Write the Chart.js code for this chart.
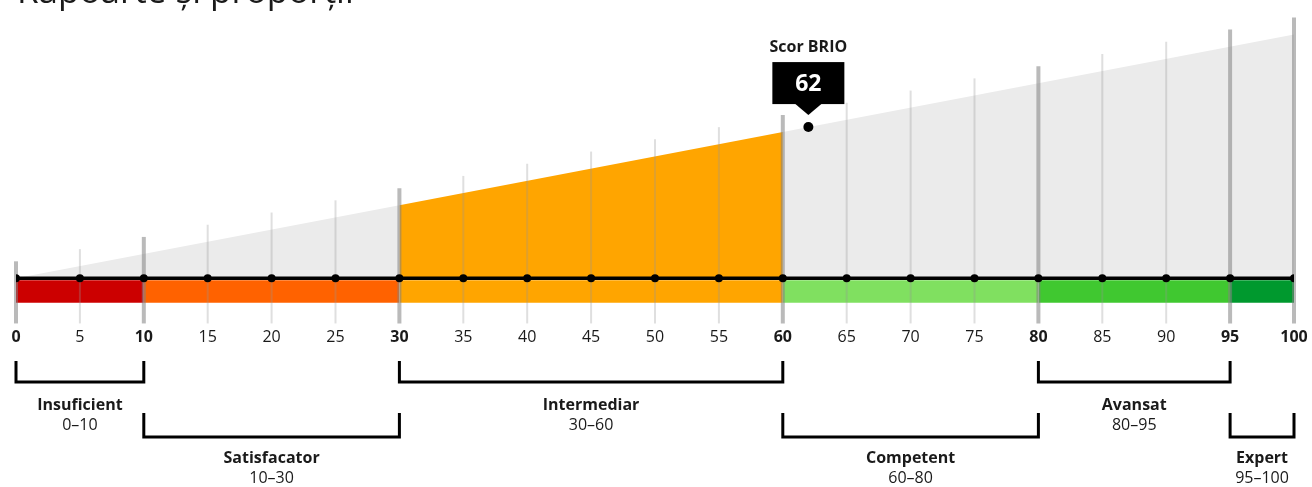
<!DOCTYPE html>
<html>
<head>
<meta charset="utf-8">
<script src="https://cdn.jsdelivr.net/npm/chart.js@4.4.0/dist/chart.umd.min.js"></script>
<style>
  html, body { margin: 0; padding: 0; background: #fff; }
  #wrap { position: relative; width: 1312px; height: 487px; }
</style>
</head>
<body>
<div id="wrap"><canvas id="brioChart"></canvas></div>
<script>
const chartTitle = 'Rapoarte și proporții';
const scoreLabel = 'Scor BRIO';
const score = 62;

// levels of the scale
const levelNames = ['Insuficient', 'Satisfacator', 'Intermediar', 'Competent', 'Avansat', 'Expert'];
const levelFrom = [0, 10, 30, 60, 80, 95];
const levelTo = [10, 30, 60, 80, 95, 100];
const levelColors = ['#cc0000', '#ff6200', '#ffa500', '#80e060', '#40c830', '#00992e'];

// tick labels along the axis
const tickValues = [0, 5, 10, 15, 20, 25, 30, 35, 40, 45, 50, 55, 60, 65, 70, 75, 80, 85, 90, 95, 100];
const majorTicks = [0, 10, 30, 60, 80, 95, 100];

// ramp above the axis: height follows the score, one part highlighted
const rampX = [0, 30, 60, 100];
const rampH = [0, 30, 60, 100];
const rampColors = ['#ebebeb', '#ffa500', '#ebebeb'];

const bandTop = -0.8;     // colored band just under the axis line
const bandBottom = -10;
const gridBottom = -18.5; // where the vertical lines and tick labels sit

const TEXT = '#1a1a1a';
const FONT = "'Open Sans', 'Noto Sans', sans-serif";
Chart.defaults.font.family = FONT;

const datasets = [];
// 0: score point
datasets.push({
    data: [{ x: score, y: score }],
    showLine: false,
    pointRadius: 5,
    pointBackgroundColor: '#000',
    pointBorderWidth: 0
});
// 1: axis line with dots
datasets.push({
    data: tickValues.map(v => ({ x: v, y: 0 })),
    borderColor: '#000',
    borderWidth: 3.5,
    pointRadius: 4,
    pointBackgroundColor: '#000',
    pointBorderWidth: 0,
    fill: false
});
// colored bands
levelNames.forEach((name, i) => {
    datasets.push({
        data: [{ x: levelFrom[i], y: bandTop }, { x: levelTo[i], y: bandTop }],
        borderWidth: 0,
        pointRadius: 0,
        backgroundColor: levelColors[i],
        fill: { value: bandBottom }
    });
});
// ramp pieces
for (let i = 0; i < rampX.length - 1; i++) {
    datasets.push({
        data: [{ x: rampX[i], y: rampH[i] }, { x: rampX[i + 1], y: rampH[i + 1] }],
        borderWidth: 0,
        pointRadius: 0,
        backgroundColor: rampColors[i],
        fill: 'origin'
    });
}

// vertical lines, drawn over the fills but under the axis line
const gridPlugin = {
    id: 'brioGrid',
    beforeDatasetDraw(chart, args) {
        if (args.index !== 1) return;
        const { ctx, scales: { x, y } } = chart;
        ctx.save();
        tickValues.forEach(v => {
            const major = majorTicks.includes(v);
            const px = x.getPixelForValue(v);
            ctx.strokeStyle = major ? 'rgba(130,130,130,0.55)' : 'rgba(150,150,150,0.3)';
            ctx.lineWidth = major ? 4 : 2;
            ctx.beginPath();
            ctx.moveTo(px, y.getPixelForValue(rampH[0] + v) - 17);
            ctx.lineTo(px, y.getPixelForValue(gridBottom));
            ctx.stroke();
        });
        ctx.restore();
    }
};

// title, score callout and level brackets
const extrasPlugin = {
    id: 'brioExtras',
    afterDraw(chart) {
        const { ctx, scales: { x, y } } = chart;
        ctx.save();

        ctx.fillStyle = TEXT;
        ctx.font = '35px ' + FONT;
        ctx.textAlign = 'left';
        ctx.textBaseline = 'alphabetic';
        ctx.fillText(chartTitle, 17, 3);

        // score callout
        const sx = x.getPixelForValue(score);
        const sy = y.getPixelForValue(score);
        const boxW = 72, boxH = 42;
        const boxBottom = sy - 23;
        ctx.fillStyle = '#000';
        ctx.fillRect(sx - boxW / 2, boxBottom - boxH, boxW, boxH);
        ctx.beginPath();
        ctx.moveTo(sx - 13, boxBottom);
        ctx.lineTo(sx + 13, boxBottom);
        ctx.lineTo(sx, boxBottom + 11);
        ctx.closePath();
        ctx.fill();
        ctx.fillStyle = '#fff';
        ctx.textAlign = 'center';
        ctx.textBaseline = 'middle';
        ctx.font = 'bold 23px ' + FONT;
        ctx.fillText(String(score), sx, boxBottom - boxH / 2 + 1);
        ctx.fillStyle = TEXT;
        ctx.font = 'bold 16px ' + FONT;
        ctx.fillText(scoreLabel, sx, boxBottom - boxH - 15);

        // brackets, alternating on two rows
        const rows = [
            { top: 361, bottom: 382, name: 405, range: 425 },
            { top: 413, bottom: 437, name: 458, range: 478 }
        ];
        levelNames.forEach((name, i) => {
            const r = rows[i % 2];
            const x1 = x.getPixelForValue(levelFrom[i]);
            const x2 = x.getPixelForValue(levelTo[i]);
            ctx.strokeStyle = '#000';
            ctx.lineWidth = 3;
            ctx.lineJoin = 'miter';
            ctx.lineCap = 'butt';
            ctx.beginPath();
            ctx.moveTo(x1, r.top);
            ctx.lineTo(x1, r.bottom);
            ctx.lineTo(x2, r.bottom);
            ctx.lineTo(x2, r.top);
            ctx.stroke();
            const cx = (x1 + x2) / 2;
            ctx.fillStyle = TEXT;
            ctx.font = 'bold 16px ' + FONT;
            ctx.fillText(name, cx, r.name);
            ctx.font = '16px ' + FONT;
            ctx.fillText(levelFrom[i] + '–' + levelTo[i], cx, r.range);
        });
        ctx.restore();
    }
};

new Chart(document.getElementById('brioChart'), {
    type: 'line',
    data: { datasets: datasets },
    options: {
        responsive: true,
        maintainAspectRatio: false,
        animation: false,
        events: [],
        layout: { padding: { left: 16, right: 18, top: 0, bottom: 0 } },
        plugins: {
            legend: { display: false },
            tooltip: { enabled: false },
            title: { display: false }
        },
        scales: {
            x: {
                type: 'linear',
                min: 0,
                max: 100,
                position: { y: gridBottom },
                grid: { display: false, drawTicks: false },
                border: { display: false },
                ticks: {
                    stepSize: 5,
                    autoSkip: false,
                    maxRotation: 0,
                    padding: 4,
                    color: TEXT,
                    font: c => ({
                        size: 16,
                        weight: c.tick && majorTicks.includes(c.tick.value) ? 'bold' : 'normal'
                    })
                }
            },
            y: {
                type: 'linear',
                display: false,
                min: -83.5,
                max: 112.05
            }
        }
    },
    plugins: [gridPlugin, extrasPlugin]
});
</script>
</body>
</html>
